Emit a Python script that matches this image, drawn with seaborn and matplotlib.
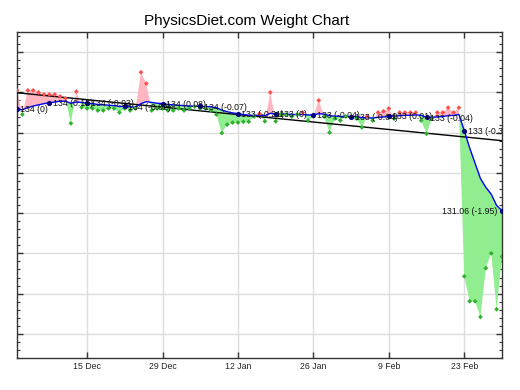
import numpy as np
import pandas as pd
import matplotlib
matplotlib.use("Agg")
import matplotlib.pyplot as plt
from matplotlib.ticker import MultipleLocator
import seaborn as sns

# ---------------- data ----------------
start_date = "2008-12-02"
weights = [134.05, 133.45, 134.05, 134.05, 134.00, 133.95, 133.95, 133.95, 133.90, 133.85,
           133.23, 134.02, 133.63, 133.60, 133.60, 133.55, 133.55, 133.60, 133.60, 133.50,
           133.60, 133.55, 133.60, 134.50, 134.22, 133.55, 133.60, 133.60, 133.55, 133.55,
           133.60, 133.55, 133.60, 133.65, 133.60, 133.60, 133.55, 133.45, 132.99, 133.20,
           133.25, 133.25, 133.27, 133.27, 133.40, 133.47, 133.28, 134.00, 133.28, 133.45,
           133.45, 133.40, 133.45, 133.50, 133.30, 133.40, 133.80, 133.40, 133.00, 133.35,
           133.30, 133.40, 133.40, 133.35, 133.13, 133.40, 133.30, 133.50, 133.53, 133.60,
           133.35, 133.50, 133.50, 133.50, 133.50, 133.30, 132.97, 133.35, 133.50, 133.50,
           133.62, 133.50, 133.62, 129.43, 128.81, 128.81, 128.42, 129.63, 130.00, 128.61,
           129.92]
trend = [133.58, 133.57, 133.62, 133.66, 133.69, 133.72, 133.74, 133.76, 133.78, 133.78,
         133.73, 133.76, 133.75, 133.73, 133.72, 133.70, 133.69, 133.68, 133.67, 133.65,
         133.65, 133.64, 133.63, 133.72, 133.77, 133.75, 133.73, 133.72, 133.70, 133.69,
         133.68, 133.67, 133.66, 133.66, 133.65, 133.65, 133.64, 133.62, 133.56, 133.52,
         133.49, 133.47, 133.45, 133.43, 133.43, 133.43, 133.42, 133.48, 133.46, 133.46,
         133.46, 133.45, 133.45, 133.45, 133.44, 133.44, 133.47, 133.46, 133.42, 133.41,
         133.40, 133.40, 133.40, 133.40, 133.37, 133.37, 133.36, 133.38, 133.39, 133.41,
         133.41, 133.42, 133.43, 133.43, 133.44, 133.43, 133.38, 133.38, 133.39, 133.40,
         133.42, 133.43, 133.45, 133.05, 132.62, 132.24, 131.86, 131.64, 131.47, 131.19,
         131.06]
fit_values = [133.99, 132.80]
marker_days = [0, 6, 13, 20, 27, 34, 41, 48, 55, 62, 69, 76, 83, 90]
marker_labels = ["134 (0)", "134 (0.15)", "134 (-0.03)", "134 (-0.02)", "134 (0.08)",
                 "134 (-0.07)", "133 (-0.21)", "133 (0)", "133 (-0.04)", "133 (-0.04)",
                 "133 (0.01)", "133 (-0.04)", "133 (-0.36)", "131.06 (-1.95)"]
tick_dates = ["2008-12-15", "2008-12-29", "2009-01-12", "2009-01-26", "2009-02-09", "2009-02-23"]
tick_labels = ["15 Dec", "29 Dec", "12 Jan", "26 Jan", "9 Feb", "23 Feb"]
y_major = [128, 129, 130, 131, 132, 133, 134, 135]

# ---------------- frame ----------------
dates = pd.date_range(start_date, periods=len(weights), freq="D")
df = pd.DataFrame({"date": dates, "weight": weights, "trend": trend})
df["side"] = np.where(df["weight"] > df["trend"], "above", "below")
mk = pd.DataFrame({"date": dates[marker_days], "trend": [trend[d] for d in marker_days],
                   "label": marker_labels})

sns.set_theme(style="white")
plt.rcParams["font.family"] = ["Liberation Sans", "DejaVu Sans"]

fig = plt.figure(figsize=(5.2, 3.9), dpi=100)
ax = fig.add_axes([17 / 520, 1 - 358 / 390, 485 / 520, 326 / 390])

ax.fill_between(df["date"], df["weight"], df["trend"], where=df["weight"] >= df["trend"],
                interpolate=True, color="#FFB6C1", lw=0, zorder=1)
ax.fill_between(df["date"], df["weight"], df["trend"], where=df["weight"] <= df["trend"],
                interpolate=True, color="#90EE90", lw=0, zorder=1)

sns.lineplot(x=[dates[0], dates[-1]], y=fit_values, color="black", lw=1, ax=ax, zorder=3)
sns.lineplot(data=df, x="date", y="trend", color="#0000FF", lw=1, ax=ax, zorder=4)
sns.scatterplot(data=df, x="date", y="weight", hue="side",
                palette={"above": "#FF5050", "below": "#30B030"},
                marker="D", s=6, linewidth=0, legend=False, ax=ax, zorder=5)
sns.scatterplot(data=mk, x="date", y="trend", color="#000080", s=14, linewidth=0,
                legend=False, ax=ax, zorder=6)

n = len(mk)
for i, row in mk.iterrows():
    last = i == n - 1
    ax.annotate(row["label"], (row["date"], row["trend"]),
                xytext=(-3 if last else 2.5, -0.5), textcoords="offset points",
                ha="right" if last else "left", va="center", fontsize=6.3,
                color="#111111", clip_on=True, zorder=7)

ax.set_xlim(dates[0], dates[-1])
ax.set_ylim(127.4, 135.5)
ax.set_xticks(pd.to_datetime(tick_dates))
ax.set_xticklabels(tick_labels)
ax.set_yticks(y_major)
ax.set_yticklabels([])
ax.yaxis.set_minor_locator(MultipleLocator(0.2))
ax.set_xlabel("")
ax.set_ylabel("")

ax.grid(True, which="major", color="#dcdcdc", lw=1)
ax.set_axisbelow(True)
ax.tick_params(which="both", direction="in", top=True, right=True, left=True, bottom=True,
               color="#333333")
ax.tick_params(which="major", length=4, width=1, labelsize=6.3, pad=3)
ax.tick_params(which="minor", length=2, width=0.8)
for s in ax.spines.values():
    s.set_visible(True)
    s.set_color("#333333")
    s.set_linewidth(1)

fig.text(0.475, 1 - 25 / 390, "PhysicsDiet.com Weight Chart", ha="center", va="baseline",
         fontsize=11, color="black")

fig.savefig("out.png", dpi=100)
